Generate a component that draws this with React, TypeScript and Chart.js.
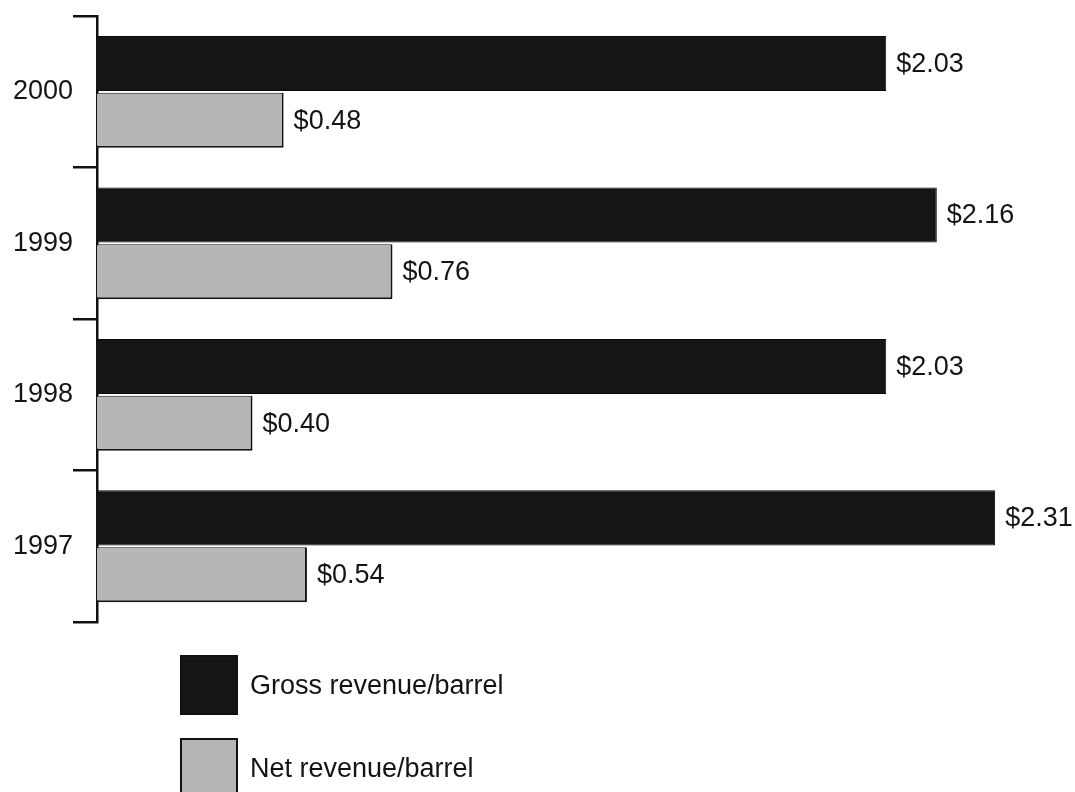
import React, { useEffect, useRef } from "react";
import { Chart, registerables } from "chart.js";

Chart.register(...registerables);

const categories = ["2000", "1999", "1998", "1997"];
const grossRevenue = [2.03, 2.16, 2.03, 2.31];
const netRevenue = [0.48, 0.76, 0.4, 0.54];
const seriesNames = ["Gross revenue/barrel", "Net revenue/barrel"];
const valuePrefix = "$";

const FONT = '"Liberation Sans", Arial, Helvetica, sans-serif';
const TEXT_COLOR = "#141414";
const FONT_SIZE = 27;

const valueLabels = {
  id: "valueLabels",
  afterDatasetsDraw(chart: any) {
    const ctx = chart.ctx;
    ctx.save();
    ctx.font = `${FONT_SIZE}px ${FONT}`;
    ctx.fillStyle = TEXT_COLOR;
    ctx.textBaseline = "middle";
    ctx.textAlign = "left";
    chart.data.datasets.forEach((ds: any, di: number) => {
      const meta = chart.getDatasetMeta(di);
      meta.data.forEach((el: any, i: number) => {
        const v = ds.data[i];
        ctx.fillText(valuePrefix + Number(v).toFixed(2), el.x + 10, el.y + 1);
      });
    });
    ctx.restore();
  },
};

const stackedLegend = {
  id: "stackedLegend",
  afterDraw(chart: any) {
    const { ctx, chartArea } = chart;
    const boxW = 58;
    const boxH = 60;
    const gap = 23;
    const x0 = chartArea.left + 83;
    let y = chartArea.bottom + 33;
    ctx.save();
    ctx.font = `${FONT_SIZE}px ${FONT}`;
    ctx.textBaseline = "middle";
    ctx.textAlign = "left";
    chart.data.datasets.forEach((ds: any) => {
      ctx.fillStyle = ds.backgroundColor;
      ctx.fillRect(x0, y, boxW, boxH);
      ctx.lineWidth = 2;
      ctx.strokeStyle = "#111";
      ctx.strokeRect(x0 + 1, y + 1, boxW - 2, boxH - 2);
      ctx.fillStyle = TEXT_COLOR;
      ctx.fillText(ds.label, x0 + boxW + 12, y + boxH / 2 + 2);
      y += boxH + gap;
    });
    ctx.restore();
  },
};

export default function App() {
  const canvasRef = useRef<HTMLCanvasElement | null>(null);

  useEffect(() => {
    if (!canvasRef.current) return;
    const chart = new Chart(canvasRef.current, {
      type: "bar",
      data: {
        labels: categories,
        datasets: [
          {
            label: seriesNames[0],
            data: grossRevenue,
            backgroundColor: "#151515",
            borderColor: "#0a0a0a",
            borderWidth: 1,
            categoryPercentage: 0.75,
            barPercentage: 0.97,
          },
          {
            label: seriesNames[1],
            data: netRevenue,
            backgroundColor: "#b6b6b6",
            borderColor: "#141414",
            borderWidth: { top: 1, right: 2, bottom: 2, left: 0 },
            categoryPercentage: 0.75,
            barPercentage: 0.97,
          },
        ],
      },
      options: {
        indexAxis: "y",
        responsive: false,
        animation: false,
        layout: { padding: { top: 15, bottom: 170, left: 0, right: 6 } },
        plugins: {
          legend: { display: false },
          tooltip: { enabled: false },
        },
        scales: {
          x: {
            display: false,
            min: 0,
            max: 2.5,
          },
          y: {
            afterFit: (scale: any) => {
              scale.width = 97;
            },
            grid: {
              offset: true,
              drawOnChartArea: false,
              drawTicks: true,
              tickLength: 24,
              color: "#111",
              lineWidth: 2.5,
            },
            border: { display: true, color: "#111", width: 2.5 },
            ticks: {
              padding: 0,
              color: TEXT_COLOR,
              font: { family: FONT, size: FONT_SIZE },
            },
          },
        },
      },
      plugins: [valueLabels, stackedLegend],
    });
    return () => chart.destroy();
  }, []);

  return (
    <div
      style={{
        position: "absolute",
        left: 0,
        top: 0,
        width: 1075,
        height: 792,
        background: "#ffffff",
      }}
    >
      <canvas ref={canvasRef} width={1075} height={792} />
    </div>
  );
}
